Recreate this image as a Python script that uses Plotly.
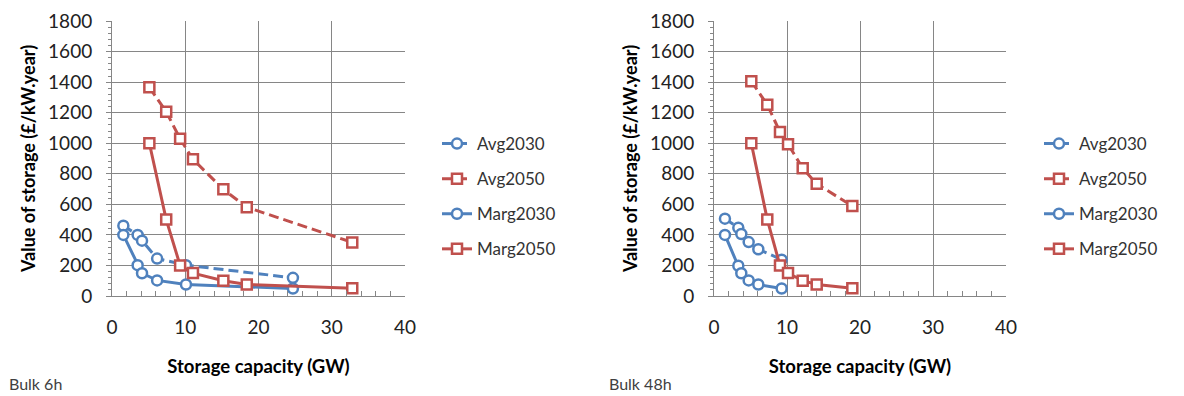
import plotly.graph_objects as go

# ---------------- data ----------------
# Bulk 6h
b6_avg2030_x = [1.55, 3.5, 4.1, 6.16, 10.1, 24.7]
b6_avg2030_y = [460, 400, 362, 245, 202, 119]
b6_marg2030_x = [1.55, 3.5, 4.1, 6.16, 10.1, 24.7]
b6_marg2030_y = [400, 202, 149, 102, 75, 49]
b6_avg2050_x = [5.1, 7.4, 9.3, 11.05, 15.2, 18.4, 32.8]
b6_avg2050_y = [1366, 1206, 1029, 895, 698, 581, 351]
b6_marg2050_x = [5.1, 7.4, 9.3, 11.05, 15.2, 18.4, 32.8]
b6_marg2050_y = [1000, 500, 200, 150, 100, 75, 50]

# Bulk 48h
b48_avg2030_x = [1.5, 3.33, 3.74, 4.75, 6.07, 9.27]
b48_avg2030_y = [506, 447, 406, 353, 306, 238]
b48_marg2030_x = [1.5, 3.33, 3.74, 4.75, 6.07, 9.27]
b48_marg2030_y = [400, 198, 149, 102, 75, 49]
b48_avg2050_x = [5.11, 7.3, 9.04, 10.14, 12.15, 14.07, 18.95]
b48_avg2050_y = [1406, 1251, 1074, 994, 836, 734, 589]
b48_marg2050_x = [5.11, 7.3, 9.04, 10.14, 12.15, 14.07, 18.95]
b48_marg2050_y = [1000, 500, 200, 150, 100, 75, 50]

series_names = ["Avg2030", "Avg2050", "Marg2030", "Marg2050"]
panel_labels = ["Bulk 6h", "Bulk 48h"]
x_title = "Storage capacity (GW)"
y_title = "Value of storage (£/kW.year)"

# ---------------- style ----------------
BLUE = "#4F81BD"
RED = "#C0504D"
GRID = "#868686"
FONT = "Lato"
W, H = 1184, 396
OFF = 8  # page body margin offset

styles = {
    "Avg2030": dict(color=BLUE, dash="10px,5px", symbol="circle"),
    "Avg2050": dict(color=RED, dash="10px,5px", symbol="square"),
    "Marg2030": dict(color=BLUE, dash="solid", symbol="circle"),
    "Marg2050": dict(color=RED, dash="solid", symbol="square"),
}

panels = [
    {
        "Avg2030": (b6_avg2030_x, b6_avg2030_y),
        "Avg2050": (b6_avg2050_x, b6_avg2050_y),
        "Marg2030": (b6_marg2030_x, b6_marg2030_y),
        "Marg2050": (b6_marg2050_x, b6_marg2050_y),
    },
    {
        "Avg2030": (b48_avg2030_x, b48_avg2030_y),
        "Avg2050": (b48_avg2050_x, b48_avg2050_y),
        "Marg2030": (b48_marg2030_x, b48_marg2030_y),
        "Marg2050": (b48_marg2050_x, b48_marg2050_y),
    },
]

fig = go.Figure()
for pi, pdata in enumerate(panels):
    xa = "x" if pi == 0 else "x2"
    ya = "y" if pi == 0 else "y2"
    leg = "legend" if pi == 0 else "legend2"
    for name in series_names:
        xs, ys = pdata[name]
        st = styles[name]
        fig.add_trace(go.Scatter(
            x=xs, y=ys, name=name, mode="lines+markers",
            xaxis=xa, yaxis=ya, legend=leg, legendgroup=f"{name}{pi}",
            line=dict(color=st["color"], width=3, dash=st["dash"]),
            marker=dict(symbol=st["symbol"], size=10, color="white",
                        line=dict(color=st["color"], width=2.5)),
            cliponaxis=False,
        ))

py = lambda p: 1 - (p - OFF) / H
px = lambda p: (p - OFF) / W

ydom = [py(296), py(21)]
common_x = dict(
    range=[0, 40], dtick=10, showgrid=True, gridcolor=GRID, gridwidth=1,
    showline=True, linecolor=GRID, linewidth=1, ticks="", zeroline=False,
    minor=dict(dtick=2, ticks="inside", ticklen=5, tickcolor=GRID, showgrid=False),
    tickfont=dict(family=FONT, size=19, color="#222222"),
    ticklabelstandoff=14, ticklabeloverflow="allow",
    automargin=False,
    title=dict(text="<b>" + x_title + "</b>", font=dict(family=FONT, size=18.5, color="#000000"), standoff=23),
)
common_y = dict(
    range=[0, 1800], dtick=200, showgrid=True, gridcolor=GRID, gridwidth=1,
    showline=True, linecolor=GRID, linewidth=1, ticks="outside", ticklen=5, tickcolor=GRID,
    zeroline=False,
    minor=dict(dtick=40, ticks="outside", ticklen=3, tickcolor=GRID, showgrid=False),
    tickfont=dict(family=FONT, size=19, color="#222222"),
    ticklabelstandoff=10, ticklabeloverflow="allow",
    automargin=False,
    title=dict(text="<b>" + y_title + "</b>", font=dict(family=FONT, size=18, color="#000000"), standoff=7),
)

fig.update_layout(
    width=W, height=H,
    margin=dict(l=0, r=0, t=0, b=0, autoexpand=False),
    paper_bgcolor="white", plot_bgcolor="white",
    font=dict(family=FONT),
    xaxis=dict(common_x, domain=[px(112), px(405)], anchor="y"),
    yaxis=dict(common_y, domain=ydom, anchor="x"),
    xaxis2=dict(common_x, domain=[px(714), px(1006)], anchor="y2"),
    yaxis2=dict(common_y, domain=ydom, anchor="x2"),
    legend=dict(x=px(437), y=py(126), xanchor="left", yanchor="top",
                font=dict(family=FONT, size=17, color="#333333"),
                tracegroupgap=10, bgcolor="rgba(0,0,0,0)"),
    legend2=dict(x=px(1039), y=py(126), xanchor="left", yanchor="top",
                 font=dict(family=FONT, size=17, color="#333333"),
                 tracegroupgap=10, bgcolor="rgba(0,0,0,0)"),
    showlegend=True,
)

for lbl, xpx in zip(panel_labels, [7, 607]):
    fig.add_annotation(text=lbl, x=px(xpx), y=py(383), xref="paper", yref="paper",
                       xanchor="left", yanchor="middle", showarrow=False,
                       font=dict(family=FONT, size=16, color="#404040"))

fig.write_html("out.html")
